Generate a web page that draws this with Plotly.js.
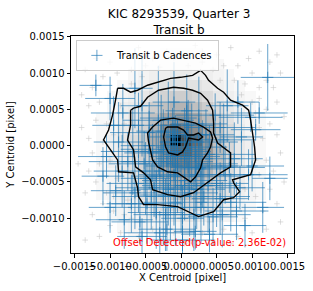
<!DOCTYPE html>
<html>
<head>
<meta charset="utf-8">
<script src="https://cdn.plot.ly/plotly-3.0.1.min.js"></script>
<style>html,body{margin:0;padding:0;background:#fff;}#chart{width:313px;height:291px;}</style>
</head>
<body>
<div id="chart"></div>
<script>
// ---- tick labels ----
const tickVals = [-0.0015, -0.0010, -0.0005, 0.0, 0.0005, 0.0010, 0.0015];

// ---- 2D histogram of all cadences (grey background) ----
const histX = [-14.25e-4,-12.75e-4,-11.25e-4,-9.75e-4,-8.25e-4,-6.75e-4,-5.25e-4,-3.75e-4,-2.25e-4,-0.75e-4,0.75e-4,2.25e-4,3.75e-4,5.25e-4,6.75e-4,8.25e-4,9.75e-4,11.25e-4,12.75e-4,14.25e-4];
const histY = [-14.25e-4,-12.75e-4,-11.25e-4,-9.75e-4,-8.25e-4,-6.75e-4,-5.25e-4,-3.75e-4,-2.25e-4,-0.75e-4,0.75e-4,2.25e-4,3.75e-4,5.25e-4,6.75e-4,8.25e-4,9.75e-4,11.25e-4,12.75e-4,14.25e-4];
const histZ = [
 [0,0,0,0,0,0,0,0,0,0,0,0,0,0,0,0,0,0,0,0],
 [0,0,0,0,0,0.3,0,0.3,0.5,0.3,0.5,0.3,0,0,0,0,0,0,0,0],
 [0,0,0,0,0.3,0.5,0.5,0.5,0.8,0.5,0.8,0.5,0.5,0.3,0,0,0,0,0,0],
 [0,0,0,0.3,0.5,0.5,0.8,1,1,1.2,1.5,1.2,1,0.8,0.5,0.3,0,0,0,0],
 [0,0,0,0.3,0.5,0.8,1,1.5,1.8,2,2,1.8,1.5,1.2,0.8,0.5,0.3,0,0,0],
 [0,0,0.3,0.5,0.8,1,1.5,2,2.5,3,3,2.8,2.2,1.8,1.5,0.8,0.5,0.3,0,0],
 [0,0,0.3,0.5,0.8,1.2,1.8,2.5,3.2,3.8,3.8,3.5,2.8,2.2,1.5,1,0.5,0.3,0,0],
 [0,0,0.3,0.5,1,1.5,2,3,3.8,4.5,4.5,4,3.5,2.5,1.8,1,0.5,0.3,0,0],
 [0,0,0.3,0.8,1,1.5,2.2,3.2,4.5,5.5,5.5,5,4,3,2,1.2,0.5,0.3,0,0],
 [0,0,0.3,0.8,1.2,1.8,2.5,3.5,5,6.2,6.2,5.5,4.5,3.2,2,1.2,0.8,0.3,0,0],
 [0,0,0.3,0.8,1.2,1.8,2.5,3.8,5.5,8,6.8,6,4.5,3,2,1.2,0.8,0.3,0,0],
 [0,0,0.3,0.5,1,1.5,2.2,3.5,5,6,5.5,5,4,2.8,1.8,1,0.5,0.3,0,0],
 [0,0,0.3,0.5,0.8,1.2,2,3,4,4.5,4.5,4,3.2,2.2,1.5,0.8,0.5,0.3,0,0],
 [0,0,0,0.3,0.8,1,1.5,2.5,3,3.5,3.5,3,2.5,1.8,1.2,0.8,0.3,0,0,0],
 [0,0,0,0.3,0.5,0.8,1.2,1.8,2.2,2.5,2.5,2.2,1.8,1.2,0.8,0.5,0.3,0,0,0],
 [0,0,0,0,0.3,0.5,0.8,1.2,1.5,1.5,1.5,1.5,1.2,0.8,0.5,0.3,0,0,0,0],
 [0,0,0,0,0,0.3,0.5,0.8,0.8,1,1,0.8,0.8,0.5,0.3,0,0,0,0,0],
 [0,0,0,0,0,0,0.3,0.3,0.5,0.5,0.5,0.5,0.3,0.3,0,0,0,0,0,0],
 [0,0,0,0,0,0,0,0,0.3,0.3,0.3,0.3,0,0,0,0,0,0,0,0],
 [0,0,0,0,0,0,0,0,0,0,0,0,0,0,0,0,0,0,0,0]
];

// ---- out-of-transit cadences (grey +) ----
const grayX = [3e-4,5e-4,7e-4,8e-4,9.5e-4,11e-4,12.5e-4,13.5e-4,6e-4,4.5e-4,10e-4,12e-4,13e-4,14e-4,11e-4,9e-4,7.5e-4,13.5e-4,12e-4,14.5e-4,11e-4,10.5e-4,12.5e-4,13.5e-4,11.5e-4,14e-4,12e-4,13e-4,11e-4,14.5e-4,12.5e-4,10.5e-4,13.5e-4,11.5e-4,14e-4,12e-4,10e-4,13e-4,9e-4,8e-4,6e-4,7e-4,
 -2e-4,-4e-4,-6e-4,-8e-4,-10e-4,-12e-4,-13.5e-4,-11e-4,-12.5e-4,-9e-4,-7e-4,-5e-4,-3e-4,-1e-4,1e-4,2e-4,-14e-4,-13e-4,-11.5e-4,-12e-4,-14e-4,-13e-4,-11e-4,-12.5e-4,-14.5e-4,-13e-4,-11.5e-4,-12e-4,-10.5e-4,-13.5e-4,-11e-4,-9.5e-4,-12.5e-4,-10e-4,-8.5e-4,-11.5e-4,-13.5e-4,-7e-4,-6e-4,-4e-4,-3e-4,-1e-4,0.5e-4,3e-4,4.5e-4,-9e-4,-10e-4,-9.5e-4,-8.5e-4,-7e-4,-5.5e-4,3e-4,5.5e-4,8.5e-4,10e-4,11e-4,10.5e-4,9e-4,7e-4,4e-4,-7.5e-4,-8e-4,-9.5e-4,-10.5e-4,-8e-4];
const grayY = [13e-4,12.5e-4,13.5e-4,11e-4,12e-4,13e-4,11.5e-4,12.5e-4,11e-4,10.5e-4,10e-4,9e-4,8e-4,10e-4,8e-4,8.5e-4,9e-4,6e-4,5e-4,4e-4,6.5e-4,4.5e-4,3e-4,1.5e-4,1e-4,-1e-4,-2e-4,-3.5e-4,-4e-4,-5e-4,-6e-4,-7e-4,-8e-4,-9e-4,-10.5e-4,-11.5e-4,-12e-4,-13e-4,-10e-4,-12.5e-4,-11.5e-4,-13.5e-4,
 13e-4,12e-4,13.5e-4,12.5e-4,11.5e-4,12e-4,10.5e-4,9.5e-4,8e-4,10e-4,10.5e-4,11e-4,10.8e-4,12e-4,11e-4,13.8e-4,7e-4,5.5e-4,6e-4,3.5e-4,2.5e-4,1e-4,0.5e-4,-1e-4,-2.5e-4,-3.5e-4,-2.5e-4,-5e-4,-6.5e-4,-6.5e-4,-8e-4,-9e-4,-9.5e-4,-11e-4,-12e-4,-12.5e-4,-13e-4,-10e-4,-12.5e-4,-11.5e-4,-13e-4,-12e-4,-13.5e-4,-12e-4,-13e-4,-4.5e-4,-2e-4,1.5e-4,5.5e-4,8.5e-4,9.5e-4,11.5e-4,9e-4,7e-4,6e-4,2.5e-4,-2e-4,-6e-4,-9.5e-4,-10.5e-4,-7.5e-4,-9.5e-4,-7e-4,3e-4,3e-4];

// ---- in-transit cadences (blue, with errors) ----
const transitX  = [12.2e-4,-12.0e-4,-6.5e-4,-8.2e-4,-5.5e-4,-3.2e-4,0.8e-4,2.5e-4,4.8e-4,9.8e-4,10.5e-4,8.5e-4,6e-4,-1.2e-4,-4.5e-4,-8.8e-4,-10.5e-4,-6.8e-4,-2.5e-4,1.5e-4,4e-4,7.5e-4,10e-4,-5.2e-4,-0.5e-4,2.8e-4,-8.3e-4,6.2e-4,-3.5e-4,0.5e-4,-6e-4,3.8e-4,8.3e-4,-1.8e-4,-9.2e-4,1.2e-4,-4.2e-4,5.5e-4,-7e-4,-0.8e-4,2.8e-4,-3.5e-4,0.2e-4,4.5e-4,-5.8e-4,7.8e-4,-2e-4,2e-4,-0.5e-4,0.8e-4,-2.8e-4,3.5e-4,-1.5e-4,2e-4,-4e-4,5e-4,-3e-4,1e-4,12.5e-4,11.5e-4,-11e-4,-10e-4,6.5e-4,-1e-4,9e-4,
 -1.5e-4,1.8e-4,-4.8e-4,3.2e-4,-2.5e-4,0,-6.5e-4,5e-4,-3.8e-4,2e-4,-1e-4,-5e-4,6.8e-4,-7.5e-4,-2e-4,3e-4,0.5e-4,-4.5e-4,-0.8e-4,2.5e-4,5.5e-4,-6e-4,-1.8e-4,1e-4,7e-4,-8e-4,-3e-4,4e-4,-5.5e-4,9.5e-4,11e-4,8e-4,-9.5e-4,-10e-4,0.2e-4,2.2e-4,-2.2e-4,5.8e-4];
const transitY  = [9.4e-4,8.3e-4,7.9e-4,4.5e-4,5.5e-4,3.5e-4,4.8e-4,3e-4,4.2e-4,3.9e-4,2.2e-4,1.2e-4,0.8e-4,1.2e-4,1.8e-4,0.5e-4,-1.5e-4,-0.8e-4,-0.5e-4,-0.2e-4,-1.2e-4,-1.8e-4,-2.8e-4,-2.5e-4,-2.8e-4,-3.2e-4,-3.5e-4,-4e-4,-4.2e-4,-4.8e-4,-5.2e-4,-5.5e-4,-5.8e-4,-6e-4,-6.2e-4,-6.5e-4,-7e-4,-7.3e-4,-8e-4,-7.8e-4,-8.5e-4,-9.2e-4,-10e-4,-9.8e-4,-10.5e-4,-9e-4,-11.5e-4,-11.8e-4,0.5e-4,1.5e-4,2e-4,1.5e-4,-1.5e-4,-1.5e-4,-1e-4,-2.8e-4,-3.5e-4,-3e-4,-4.5e-4,-8.5e-4,-4.2e-4,-8.5e-4,5.5e-4,6e-4,-11e-4,
 -8.5e-4,-9.5e-4,-8e-4,-7e-4,-6.8e-4,-5.5e-4,-6.5e-4,-5.2e-4,-5.8e-4,-4.2e-4,-4e-4,-4.5e-4,-3e-4,-2.2e-4,-2.2e-4,-2.5e-4,-1.8e-4,0,-0.8e-4,0.5e-4,2.5e-4,2.8e-4,3.8e-4,2.8e-4,-7.8e-4,-10.2e-4,-12e-4,-12.2e-4,-12.5e-4,-4e-4,4.5e-4,6e-4,2.8e-4,6.5e-4,-13e-4,-6e-4,-9.5e-4,-9.5e-4];
const transitEX = [3.8e-4,2.3e-4,2.5e-4,4.5e-4,3e-4,5e-4,3e-4,4e-4,5.5e-4,4.5e-4,3.5e-4,3e-4,4.5e-4,3.5e-4,5.5e-4,3.5e-4,4e-4,4.5e-4,6e-4,5e-4,6.5e-4,4e-4,4.5e-4,5e-4,4.5e-4,3.5e-4,4e-4,5e-4,3.5e-4,6e-4,4.5e-4,4.5e-4,3.5e-4,5e-4,3.5e-4,4e-4,5.5e-4,4e-4,3.5e-4,4.5e-4,5.5e-4,4e-4,3e-4,3.5e-4,4e-4,4.5e-4,4e-4,3e-4,2.5e-4,3e-4,3.5e-4,4e-4,3e-4,3.5e-4,4e-4,3e-4,3e-4,2.5e-4,2.5e-4,3e-4,3e-4,3e-4,3e-4,3e-4,3e-4,
 6e-4,5e-4,5e-4,6.5e-4,4e-4,5.5e-4,4.5e-4,4.5e-4,5.5e-4,7e-4,5e-4,3.5e-4,5e-4,5.5e-4,6.5e-4,5e-4,4e-4,4e-4,5e-4,5.5e-4,5e-4,4e-4,4e-4,3.5e-4,5e-4,4e-4,5e-4,4e-4,3.5e-4,5.5e-4,4e-4,3e-4,3e-4,3.5e-4,4.5e-4,4e-4,4.5e-4,4e-4];
const transitEY = [4.6e-4,1.5e-4,5.5e-4,4e-4,7e-4,7.5e-4,5e-4,6.5e-4,3e-4,2e-4,1.5e-4,4e-4,5e-4,4e-4,3e-4,5.5e-4,3e-4,6e-4,5.5e-4,6e-4,4e-4,5e-4,3.5e-4,4.5e-4,6.5e-4,5e-4,5e-4,4e-4,6e-4,5.5e-4,4e-4,6.5e-4,3e-4,5e-4,3.5e-4,6e-4,4.5e-4,5e-4,4e-4,6e-4,5e-4,5e-4,4.5e-4,4e-4,3e-4,4e-4,3e-4,2.5e-4,3e-4,4.5e-4,5e-4,3.5e-4,4e-4,3e-4,4e-4,4e-4,3e-4,4e-4,3e-4,3.5e-4,4e-4,3.5e-4,5e-4,5.5e-4,3e-4,
 4.5e-4,5e-4,5.5e-4,4e-4,7e-4,6.5e-4,5e-4,6e-4,4e-4,5e-4,7e-4,5e-4,3.5e-4,4e-4,4.5e-4,6e-4,7e-4,6e-4,5e-4,4.5e-4,3.5e-4,4.5e-4,5e-4,3.5e-4,4e-4,4e-4,3e-4,2.5e-4,2.5e-4,3.5e-4,1.5e-4,3e-4,4e-4,3e-4,2e-4,5.5e-4,5e-4,4.5e-4];

// ---- density contours ----
const contour1X = [-8.94e-4,-8.10e-4,-7.11e-4,-6.13e-4,-4.72e-4,-3.31e-4,-1.48e-4,-0.07e-4,1.62e-4,2.75e-4,3.45e-4,3.87e-4,5.14e-4,5.99e-4,6.97e-4,8.66e-4,9.51e-4,9.79e-4,10.07e-4,10.35e-4,10.49e-4,9.79e-4,7.25e-4,7.39e-4,8.24e-4,7.39e-4,5.99e-4,4.58e-4,2.46e-4,1.34e-4,-0.49e-4,-3.31e-4,-5.28e-4,-5.99e-4,-6.13e-4,-6.69e-4,-8.80e-4,-8.94e-4,-9.93e-4,-10.92e-4,-10.21e-4,-9.65e-4,-9.23e-4,-8.94e-4];
const contour1Y = [7.90e-4,7.90e-4,7.36e-4,7.63e-4,8.32e-4,8.73e-4,9.27e-4,9.41e-4,9.68e-4,10.37e-4,9.68e-4,9.00e-4,7.90e-4,7.36e-4,6.26e-4,5.58e-4,4.89e-4,3.52e-4,1.74e-4,-0.18e-4,-1.96e-4,-4.01e-4,-4.70e-4,-5.11e-4,-6.34e-4,-7.16e-4,-7.44e-4,-9.08e-4,-9.77e-4,-9.22e-4,-8.40e-4,-8.12e-4,-8.12e-4,-7.03e-4,-5.79e-4,-3.74e-4,-3.60e-4,-1.96e-4,-0.59e-4,0.78e-4,2.15e-4,4.21e-4,6.26e-4,7.90e-4];
const contour2X = [-7.11e-4,-6.69e-4,-5.70e-4,-4.72e-4,-3.17e-4,-1.06e-4,0.35e-4,1.62e-4,2.75e-4,3.73e-4,4.44e-4,4.58e-4,4.58e-4,5.14e-4,6.97e-4,6.97e-4,5.56e-4,3.73e-4,1.76e-4,-0.07e-4,-1.90e-4,-4.01e-4,-4.30e-4,-5.28e-4,-6.41e-4,-6.69e-4,-7.54e-4,-7.11e-4,-7.11e-4];
const contour2Y = [4.88e-4,5.16e-4,5.42e-4,6.67e-4,7.63e-4,8.04e-4,7.90e-4,7.63e-4,7.22e-4,6.26e-4,4.89e-4,3.11e-4,1.74e-4,0.37e-4,-1.00e-4,-2.92e-4,-3.74e-4,-5.11e-4,-6.48e-4,-7.03e-4,-6.75e-4,-6.07e-4,-4.70e-4,-3.74e-4,-2.92e-4,-0.59e-4,0.78e-4,2.84e-4,4.88e-4];
const contour3X = [-4.01e-4,-2.89e-4,-1.06e-4,0.35e-4,2.04e-4,3.17e-4,4.15e-4,4.44e-4,4.15e-4,3.73e-4,3.03e-4,2.75e-4,2.04e-4,1.34e-4,0.92e-4,-0.49e-4,-1.90e-4,-3.31e-4,-4.01e-4,-4.30e-4,-4.58e-4,-4.72e-4,-4.01e-4];
const contour3Y = [2.56e-4,3.52e-4,3.79e-4,3.52e-4,3.11e-4,2.56e-4,1.88e-4,1.05e-4,-0.18e-4,-1.00e-4,-1.96e-4,-3.05e-4,-4.29e-4,-4.97e-4,-4.70e-4,-3.74e-4,-3.60e-4,-2.92e-4,-1.96e-4,-0.86e-4,0.51e-4,1.74e-4,2.56e-4];
const contour4X = [-2.18e-4,-1.90e-4,-0.49e-4,0.35e-4,0.92e-4,1.76e-4,2.46e-4,3.03e-4,2.46e-4,1.06e-4,0.63e-4,0.21e-4,-0.49e-4,-1.76e-4,-2.18e-4,-2.46e-4,-2.18e-4];
const contour4Y = [2.42e-4,2.56e-4,2.56e-4,2.15e-4,1.47e-4,1.47e-4,1.74e-4,1.19e-4,0.78e-4,1.05e-4,-0.18e-4,-0.86e-4,-1.27e-4,-1.00e-4,-0.18e-4,1.19e-4,2.42e-4];

// ---- texts ----
const titleText = 'KIC 8293539, Quarter 3<br>Transit b';
const xTitle = 'X Centroid [pixel]';
const yTitle = 'Y Centroid [pixel]';
const legendName = 'Transit b Cadences';
const offsetText = 'Offset Detected(p-value: 2.36E-02)';

const FONT = 'DejaVu Sans, sans-serif';
const blueLine = 'rgba(31,119,180,0.68)';
const contourStyle = {color: '#000000', width: 1.4};

const traces = [
  {type: 'heatmap', x: histX, y: histY, z: histZ, zmin: 0, zmax: 8,
   colorscale: [[0,'#ffffff'],[0.06,'#f4f4f4'],[0.15,'#e8e8e8'],[0.3,'#cfcfcf'],[0.5,'#a8a8a8'],[0.7,'#7c7c7c'],[0.85,'#4a4a4a'],[1,'#000000']],
   showscale: false, hoverinfo: 'skip', showlegend: false},
  {type: 'scatter', mode: 'markers', x: grayX, y: grayY, showlegend: false, hoverinfo: 'skip',
   marker: {symbol: 'cross-thin', size: 4, color: '#c8c8c8', line: {color: '#c8c8c8', width: 0.6}}},
  {type: 'scatter', mode: 'markers', x: transitX, y: transitY, name: legendName,
   marker: {symbol: 'cross-thin', size: 8, color: '#1f77b4', line: {color: blueLine, width: 1}},
   error_x: {type: 'data', array: transitEX, visible: true, color: blueLine, thickness: 1, width: 0},
   error_y: {type: 'data', array: transitEY, visible: true, color: blueLine, thickness: 1, width: 0}},
  {type: 'scatter', mode: 'lines', x: contour1X, y: contour1Y, line: contourStyle, showlegend: false, hoverinfo: 'skip'},
  {type: 'scatter', mode: 'lines', x: contour2X, y: contour2Y, line: contourStyle, showlegend: false, hoverinfo: 'skip'},
  {type: 'scatter', mode: 'lines', x: contour3X, y: contour3Y, line: contourStyle, showlegend: false, hoverinfo: 'skip'},
  {type: 'scatter', mode: 'lines', x: contour4X, y: contour4Y, line: contourStyle, showlegend: false, hoverinfo: 'skip'}
];

const axisCommon = {
  showgrid: false, zeroline: false, showline: true, mirror: true,
  linecolor: '#000000', linewidth: 1, ticks: 'outside', ticklen: 3.5, tickwidth: 1,
  tickcolor: '#000000', tickvals: tickVals, tickformat: '.4f', tickangle: 0,
  tickfont: {family: FONT, size: 10, color: '#000000'}
};

const layout = {
  width: 313, height: 291,
  margin: {l: 71, r: 19, t: 36, b: 38, pad: 0},
  paper_bgcolor: '#ffffff', plot_bgcolor: '#ffffff',
  font: {family: FONT, size: 10, color: '#000000'},
  title: {text: titleText, font: {family: FONT, size: 12, color: '#000000'},
          x: 0.572, xanchor: 'center', y: 0.938, yanchor: 'top'},
  xaxis: Object.assign({}, axisCommon, {range: [-0.00155, 0.00159],
          title: {text: xTitle, font: {family: FONT, size: 10}, standoff: 2}}),
  yaxis: Object.assign({}, axisCommon, {range: [-0.001478, 0.00151],
          title: {text: yTitle, font: {family: FONT, size: 10}, standoff: 4}}),
  showlegend: true,
  legend: {x: 0.022, y: 0.982, xanchor: 'left', yanchor: 'top',
           bgcolor: 'rgba(255,255,255,0.8)', bordercolor: '#cccccc', borderwidth: 1,
           itemsizing: 'trace', itemwidth: 30,
           font: {family: FONT, size: 10, color: '#000000'}},
  annotations: [{text: offsetText, xref: 'paper', yref: 'paper', x: 0.973, y: 0.05,
                 xanchor: 'right', yanchor: 'middle', showarrow: false,
                 font: {family: FONT, size: 9.9, color: '#ff0000'}}]
};

Plotly.newPlot('chart', traces, layout, {staticPlot: true, displayModeBar: false});
</script>
</body>
</html>
